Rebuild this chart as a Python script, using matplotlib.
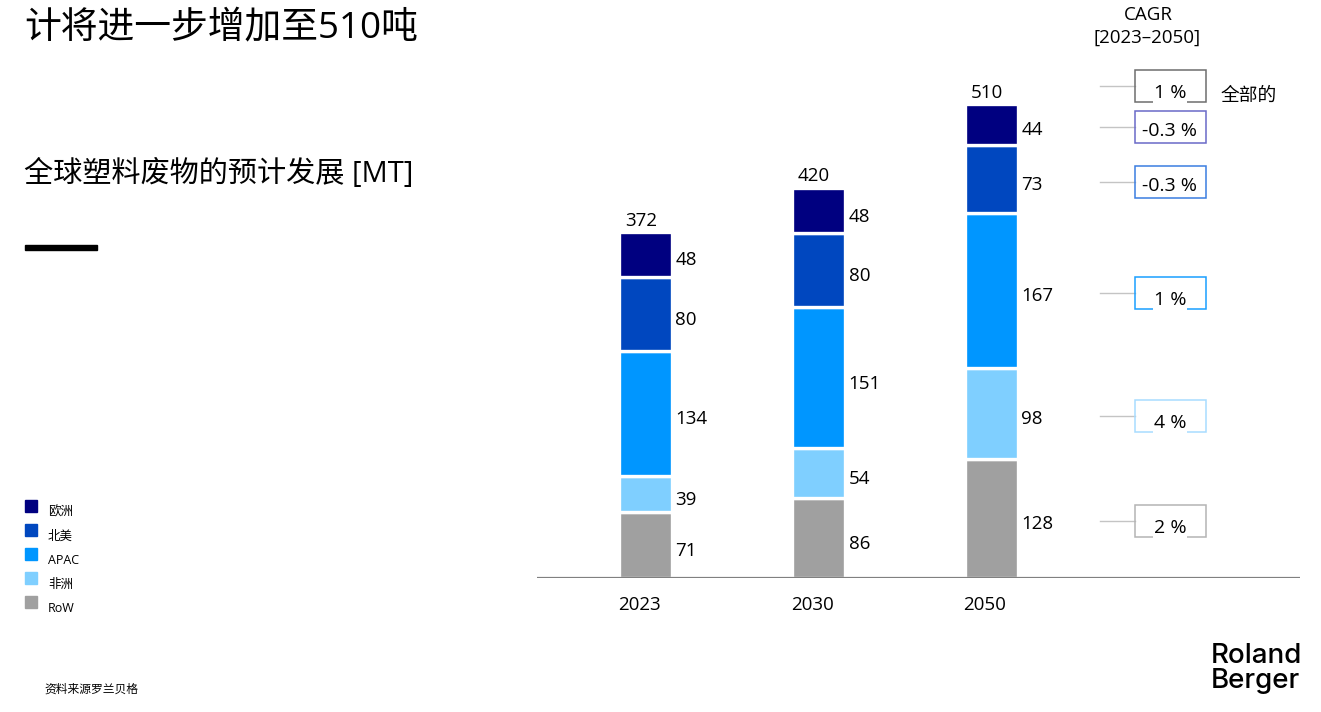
import numpy as np
import matplotlib
matplotlib.use("Agg")
import matplotlib.pyplot as plt
from matplotlib.patches import Rectangle

# ---------- data ----------
years = ["2023", "2030", "2050"]
regions = ["欧洲", "北美", "APAC", "非洲", "RoW"]
row = [71, 86, 128]
africa = [39, 54, 98]
apac = [134, 151, 167]
north_america = [80, 80, 73]
europe = [48, 48, 44]
totals = [372, 420, 510]
cagr_labels = ["1 %", "-0.3 %", "-0.3 %", "1 %", "4 %", "2 %"]  # total, EU, NA, APAC, Africa, RoW

# ---------- style ----------
EU = "#000080"; NA = "#0047bf"; AP = "#0096ff"; AF = "#7fcfff"; RW = "#a0a0a0"
BOX_EDGE = ["#6e6e6e", "#6a6ac8", "#3b7de0", "#1a9fff", "#a8dcff", "#b4b4b4"]
BOX_CUT = [True, False, False, True, True, True]   # label breaks the bottom border
FONT = ["Open Sans", "Noto Sans CJK SC", "DejaVu Sans"]
CJK = ["Noto Sans CJK SC", "DejaVu Sans"]
plt.rcParams["font.family"] = FONT

W, H = 1321, 712
fig = plt.figure(figsize=(W / 100, H / 100), dpi=100)

def fx(x): return x / W
def fy(y): return 1 - y / H

# header texts
fig.text(fx(24), fy(29), "计将进一步增加至510吨", fontsize=26.5, va="center", ha="left")
fig.text(fx(24), fy(174), "全球塑料废物的预计发展 [MT]", fontsize=21, va="center", ha="left")
fig.add_artist(Rectangle((fx(25), fy(250)), fx(72), 5 / H, color="black", transform=fig.transFigure))

# legend
cols = [EU, NA, AP, AF, RW]
for i, (lab, c) in enumerate(zip(regions, cols)):
    yc = 506 + 24 * i
    fig.add_artist(Rectangle((fx(25), fy(yc + 6)), fx(12), 12 / H, color=c, transform=fig.transFigure))
    fig.text(fx(48), fy(yc + 6), lab, fontsize=9, va="center", ha="left")

fig.text(fx(44), fy(689), "资料来源罗兰贝格", fontsize=8.5, va="center", ha="left", family=CJK)

# logo
fig.text(fx(1211), fy(656), "Roland", fontsize=20, va="center", ha="left", family="Inter", weight="medium")
fig.text(fx(1211), fy(681), "Berger", fontsize=20, va="center", ha="left", family="Inter", weight="medium")

# CAGR header
fig.text(fx(1148), fy(15), "CAGR", fontsize=13.5, va="center", ha="center")
fig.text(fx(1147), fy(38), "[2023–2050]", fontsize=13.5, va="center", ha="center")
fig.text(fx(1221), fy(95), "全部的", fontsize=13.5, va="center", ha="left", family=CJK)

# ---------- chart ----------
ax = fig.add_axes([fx(537), fy(578), fx(1300 - 537), (578 - 60) / H])
x = np.arange(len(years))
pxu = 173.0  # pixels per x unit
pyu = 0.93   # pixels per MT
ax.set_xlim(-(645 - 537) / pxu, (1300 - 645) / pxu)
ax.set_ylim(0, 518 / pyu)
for s in ax.spines.values():
    s.set_visible(False)
ax.set_xticks([]); ax.set_yticks([])

stack = [row, africa, apac, north_america, europe]
stack_cols = [RW, AF, AP, NA, EU]
bw = 53 / pxu
bottom = np.zeros(len(years))
for vals, c in zip(stack, stack_cols):
    vals = np.array(vals, dtype=float)
    ax.bar(x, vals, bottom=bottom, width=bw, color=c, edgecolor="white", linewidth=2.4, zorder=2)
    for xi, b, v in zip(x, bottom, vals):
        ax.annotate(f"{v:.0f}", (xi + bw / 2, b + v / 2), xytext=(4, -6), textcoords="offset pixels",
                    ha="left", va="center", fontsize=13.5, zorder=5)
    bottom += vals

for xi, t in zip(x, totals):
    ax.annotate(f"{t}", (xi, t), xytext=(-4, 2), textcoords="offset pixels", ha="center", va="bottom",
                fontsize=13.5, zorder=5,
                bbox=dict(boxstyle="square,pad=0.05", fc="white", ec="none"))

# baseline
ax.axhline(0, color="#808080", lw=1.6, zorder=3)

# year labels
for xi, yr in zip(x, years):
    ax.annotate(yr, (xi, 0), xytext=(-6, -27), textcoords="offset pixels", ha="center", va="center",
                fontsize=13.5, annotation_clip=False)

# CAGR boxes aligned with 2050 segments
last = len(years) - 1
seg_vals = [row[last], africa[last], apac[last], north_america[last], europe[last]]
cum = np.cumsum([0] + seg_vals)
centers = [totals[last] + 22] + [cum[i] + seg_vals[i] / 2 for i in range(4, -1, -1)]
centers = [c - 3 / pyu for c in centers]
bx = (1170 - 645) / pxu
bwid = 71 / pxu
bh = 32 / pyu
for yc, lab, ec, cut in zip(centers, cagr_labels, BOX_EDGE, BOX_CUT):
    ax.plot([(1100 - 645) / pxu, bx - bwid / 2], [yc, yc], color="#c4c4c4", lw=1, zorder=2, clip_on=False)
    ax.add_patch(Rectangle((bx - bwid / 2, yc - bh / 2), bwid, bh, fill=False, ec=ec, lw=1.1,
                           zorder=3, clip_on=False))
    ax.annotate(lab, (bx, yc), xytext=(0, -7 if cut else -4), textcoords="offset pixels",
                ha="center", va="center", fontsize=14, zorder=5, annotation_clip=False,
                bbox=dict(boxstyle="square,pad=0.05", fc="white", ec="none") if cut else None)

fig.savefig("out.png", dpi=100)
